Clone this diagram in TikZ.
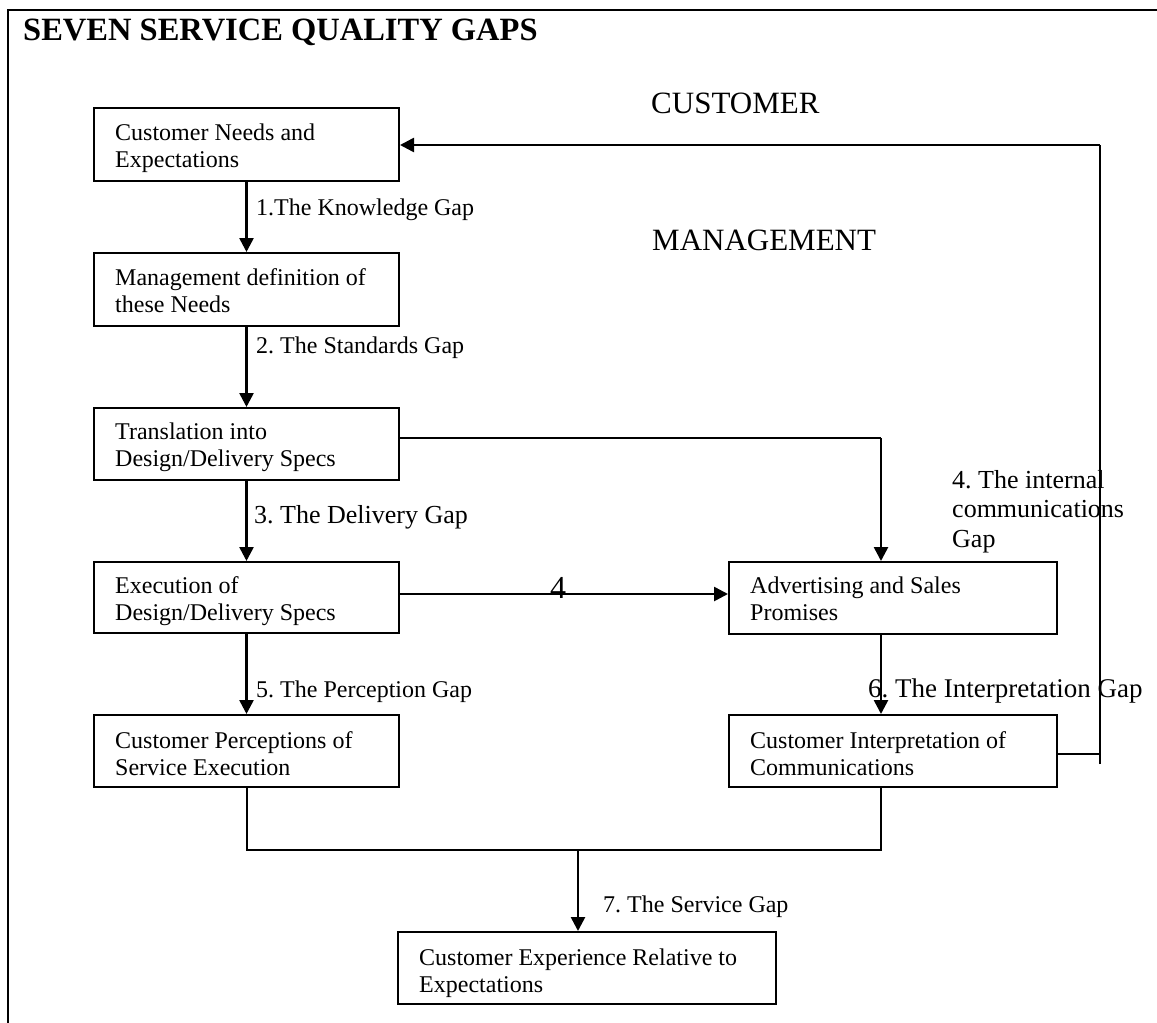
\documentclass[tikz,border=0pt]{standalone}
\usepackage{fontspec}
\setmainfont{Liberation Serif}
\usetikzlibrary{arrows.meta,calc}
\frenchspacing
\newcommand{\twoline}[2]{\vtop{\baselineskip=27pt\lineskiplimit=-20pt\hbox{#1}\hbox{#2}}}
\newcommand{\threeline}[3]{\vtop{\baselineskip=29.5pt\lineskiplimit=-20pt\hbox{#1}\hbox{#2}\hbox{#3}}}
\begin{document}
\begin{tikzpicture}[x=1pt,y=-1pt,
  box/.style={draw, line width=2pt, inner sep=0pt, rectangle},
  txt/.style={anchor=base west, inner sep=0pt, font=\fontsize{24}{27}\selectfont},
  gaplbl/.style={anchor=base west, inner sep=0pt, font=\fontsize{24}{28}\selectfont},
  biglbl/.style={anchor=base west, inner sep=0pt, font=\fontsize{31}{34}\selectfont},
  arr/.style={line width=2.6pt, -{Triangle[length=14pt,width=14pt]}},
  conn/.style={line width=2pt}]
\useasboundingbox (0,0) rectangle (1157,1023);
\fill[white] (0,0) rectangle (1157,1023);
% frame
\draw[line width=2pt] (8,1023) -- (8,10) -- (1157,10);
\node[anchor=base west, inner sep=0pt, font=\fontsize{32.5}{36}\selectfont\bfseries] (title) at (23,40) {SEVEN SERVICE QUALITY GAPS};
\node[biglbl] (cust) at (651,113) {CUSTOMER};
\node[biglbl] (mgmt) at (652,250) {MANAGEMENT};
% boxes
\node[box, minimum width=305pt, minimum height=73pt] (b1) at (246.5,144.5) {};
\node[box, minimum width=305pt, minimum height=73pt] (b2) at (246.5,289.5) {};
\node[box, minimum width=305pt, minimum height=72pt] (b3) at (246.5,444) {};
\node[box, minimum width=305pt, minimum height=71pt] (b4) at (246.5,597.5) {};
\node[box, minimum width=305pt, minimum height=72pt] (b7) at (246.5,751) {};
\node[box, minimum width=328pt, minimum height=72pt] (b5) at (893,598) {};
\node[box, minimum width=328pt, minimum height=72pt] (b6) at (893,751) {};
\node[box, minimum width=378pt, minimum height=72pt] (b8) at (587,968) {};
% box texts
\node[txt] (t1) at (115,140) {\twoline{Customer Needs and}{Expectations}};
\node[txt] (t2) at (115,285) {\twoline{Management definition of}{these Needs}};
\node[txt] (t3) at (115,439) {\twoline{Translation into}{Design/Delivery Specs}};
\node[txt] (t4) at (115,593) {\twoline{Execution of}{Design/Delivery Specs}};
\node[txt] (t7) at (115,748) {\twoline{Customer Perceptions of}{Service Execution}};
\node[txt] (t5) at (750,593) {\twoline{Advertising and Sales}{Promises}};
\node[txt] (t6) at (750,748) {\twoline{Customer Interpretation of}{Communications}};
\node[txt] (t8) at (419,965) {\twoline{Customer Experience Relative to}{Expectations}};
% coordinates
\coordinate (c35) at (881,438);
\coordinate (a4) at (0,594);
\coordinate (fbB) at (1100,764);
\coordinate (fbT) at (1100,145);
\coordinate (jL) at (246.5,850);
\coordinate (jR) at (881,850);
\coordinate (jM) at (578,850);
% connectors
\draw[arr] (b1.south) -- (b2.north);
\draw[arr] (b2.south) -- (b3.north);
\draw[arr] (b3.south) -- (b4.north);
\draw[arr] (b4.south) -- (b7.north);
\draw[arr] (b4.east |- a4) -- (b5.west |- a4);
\draw[conn] (b3.east |- c35) -- (c35);
\draw[arr] (c35) -- (c35 |- b5.north);
\draw[arr] (b5.south -| c35) -- (b6.north -| c35);
\draw[conn] (b6.east |- 0,754) -- (1100,754);
\draw[conn] (fbB) -- (fbT);
\draw[arr] (fbT) -- (fbT -| b1.east);
\draw[conn] (b7.south) -- (jL) -- (jR) -- (b6.south -| jR);
\draw[arr] (jM) -- (jM |- b8.north);
% gap labels
\node[gaplbl] (l1) at (256,215) {1.The Knowledge Gap};
\node[gaplbl] (l2) at (256,353) {2. The Standards Gap};
\node[gaplbl, font=\fontsize{26}{30}\selectfont] (l3) at (254,523) {3. The Delivery Gap};
\node[gaplbl] (l5) at (256,697) {5. The Perception Gap};
\node[gaplbl, font=\fontsize{27}{30}\selectfont] (l6) at (868,697) {6. The Interpretation Gap};
\node[gaplbl] (l7) at (603,912) {7. The Service Gap};
\node[gaplbl, font=\fontsize{26}{30}\selectfont] (l4) at (952,488) {\threeline{4. The internal}{communications}{Gap}};
\node[anchor=base, inner sep=0pt, font=\fontsize{32}{36}\selectfont] (n4) at (558,598) {4};
\end{tikzpicture}
\end{document}
